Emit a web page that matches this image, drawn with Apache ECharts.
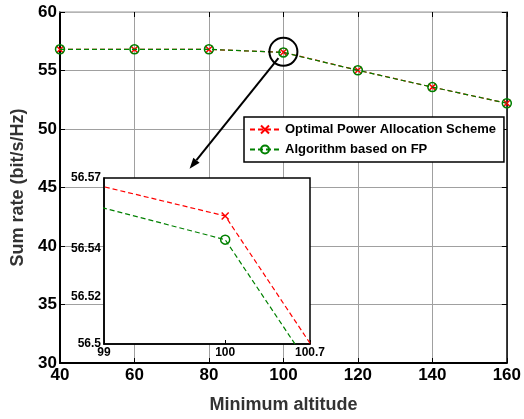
<!DOCTYPE html>
<html>
<head>
<meta charset="utf-8">
<script src="https://cdn.jsdelivr.net/npm/echarts@6/dist/echarts.min.js"></script>
<style>html,body{margin:0;padding:0;background:#fff}#c{width:524px;height:419px}</style>
</head>
<body>
<div id="c"></div>
<script>
// ---- data ----
const altitudes = [40, 60, 80, 100, 120, 140, 160];
const optimalRate = [56.80, 56.80, 56.80, 56.554, 55.02, 53.58, 52.20];
const fpRate = [56.81, 56.81, 56.81, 56.544, 55.016, 53.58, 52.20];
const seriesNames = ['Optimal Power Allocation Scheme', 'Algorithm based on FP'];
const insetYLabels = [56.5, 56.52, 56.54, 56.57];

const pairs = arr => altitudes.map((x, i) => [x, arr[i]]);
const FONT = 'Liberation Sans, Arial, sans-serif';
const xSym = 'path://M0,0L10,10M10,0L0,10';

const chart = echarts.init(document.getElementById('c'), null, {renderer: 'canvas'});

function mkSeries(idx, xi, yi, z) {
  const isRed = idx === 0;
  return {
    name: seriesNames[idx],
    type: 'line',
    xAxisIndex: xi, yAxisIndex: yi,
    data: pairs(isRed ? optimalRate : fpRate),
    z: z,
    clip: true,
    symbol: isRed ? xSym : 'circle',
    symbolSize: isRed ? 7 : 9,
    lineStyle: {color: isRed ? '#ff0000' : '#008000', width: 1.2, type: [5, 3]},
    itemStyle: {color: 'none', borderColor: isRed ? '#ff0000' : '#008000', borderWidth: 1.5},
    emphasis: {disabled: true},
    animation: false
  };
}

const option = {
  animation: false,
  grid: [
    {left: 60, right: 16, top: 12, bottom: 47, show: false},
    {left: 104, right: 214, top: 178, bottom: 75, show: true, backgroundColor: '#fff', borderColor: '#000', borderWidth: 1.5, z: 10}
  ],
  legend: {
    data: seriesNames,
    orient: 'vertical',
    left: 244, top: 117,
    padding: [6, 8, 6, 5],
    itemGap: 7,
    itemWidth: 30, itemHeight: 10,
    backgroundColor: '#fff',
    borderColor: '#000', borderWidth: 1.5, borderRadius: 0,
    textStyle: {fontFamily: FONT, fontWeight: 'bold', fontSize: 13, color: '#000'},
    z: 20
  },
  xAxis: [
    {type: 'value', gridIndex: 0, min: 40, max: 160, interval: 20, position: 'bottom',
      name: 'Minimum altitude', nameLocation: 'middle', nameGap: 33,
      nameTextStyle: {fontFamily: FONT, fontWeight: 'bold', fontSize: 18, color: '#333'},
      axisLine: {lineStyle: {color: '#000', width: 2}},
      axisTick: {inside: true, length: 5, lineStyle: {color: '#000'}},
      axisLabel: {fontFamily: FONT, fontWeight: 'bold', fontSize: 17, color: '#000', margin: 4},
      splitLine: {show: true, lineStyle: {color: '#a0a0a0', width: 1}}},
    {type: 'value', gridIndex: 0, min: 40, max: 160, interval: 20, position: 'top',
      axisLine: {lineStyle: {color: '#bbb', width: 1.5}},
      axisTick: {inside: true, length: 5, lineStyle: {color: '#000'}},
      axisLabel: {show: false}, splitLine: {show: false}},
    {type: 'value', gridIndex: 1, min: 99, max: 100.7, interval: 1, z: 11,
      axisLine: {lineStyle: {color: '#000', width: 1.5}},
      axisTick: {inside: true, length: 4, lineStyle: {color: '#000'}},
      axisLabel: {fontFamily: FONT, fontWeight: 'bold', fontSize: 12, color: '#000', margin: 3,
        showMinLabel: true, showMaxLabel: true,
        formatter: v => String(Math.round(v * 10) / 10)},
      splitLine: {show: false}}
  ],
  yAxis: [
    {type: 'value', gridIndex: 0, min: 30, max: 60, interval: 5, position: 'left',
      name: 'Sum rate (bit/s/Hz)', nameLocation: 'middle', nameGap: 30,
      nameTextStyle: {fontFamily: FONT, fontWeight: 'bold', fontSize: 18, color: '#333'},
      axisLine: {lineStyle: {color: '#000', width: 2}},
      axisTick: {inside: true, length: 5, lineStyle: {color: '#000'}},
      axisLabel: {fontFamily: FONT, fontWeight: 'bold', fontSize: 17, color: '#000', margin: 3},
      splitLine: {show: true, lineStyle: {color: '#a0a0a0', width: 1}}},
    {type: 'value', gridIndex: 0, min: 30, max: 60, interval: 5, position: 'right',
      axisLine: {lineStyle: {color: '#000', width: 1.5}},
      axisTick: {inside: true, length: 5, lineStyle: {color: '#000'}},
      axisLabel: {show: false}, splitLine: {show: false}},
    {type: 'value', gridIndex: 1, min: 56.5, max: 56.57, interval: 0.01, z: 11,
      axisLine: {lineStyle: {color: '#000', width: 1.5}},
      axisTick: {show: false},
      axisLabel: {fontFamily: FONT, fontWeight: 'bold', fontSize: 12, color: '#000', margin: 3,
        showMinLabel: true, showMaxLabel: true,
        formatter: v => {
          const hit = insetYLabels.find(t => Math.abs(t - v) < 1e-6);
          return hit === undefined ? '' : String(hit);
        }},
      splitLine: {show: false}}
  ],
  series: [
    mkSeries(0, 0, 0, 3),
    mkSeries(1, 0, 0, 4),
    Object.assign(mkSeries(0, 2, 2, 12), {name: seriesNames[0] + ' ', legendHoverLink: false}),
    Object.assign(mkSeries(1, 2, 2, 12), {name: seriesNames[1] + ' ', legendHoverLink: false})
  ]
};
chart.setOption(option);

// annotation: circle around the zoomed point and an arrow to the inset
const zoomPt = [altitudes[3], (optimalRate[3] + fpRate[3]) / 2 + 0.05];
const c = chart.convertToPixel({gridIndex: 0}, zoomPt);
const r = 14;
const tipData = [74.8, 46.6];
const tip = chart.convertToPixel({gridIndex: 0}, tipData);
const dx = tip[0] - c[0], dy = tip[1] - c[1];
const len = Math.sqrt(dx * dx + dy * dy);
const ux = dx / len, uy = dy / len;
const start = [c[0] + ux * (r - 6), c[1] + uy * (r - 6)];
const headL = 11, headW = 4;
const base = [tip[0] - ux * headL, tip[1] - uy * headL];
const px = -uy, py = ux;
chart.setOption({
  graphic: [
    {type: 'circle', shape: {cx: c[0], cy: c[1], r: r}, style: {fill: 'none', stroke: '#000', lineWidth: 2}, z: 30},
    {type: 'line', shape: {x1: start[0], y1: start[1], x2: base[0], y2: base[1]}, style: {stroke: '#000', lineWidth: 2}, z: 30},
    {type: 'polygon', shape: {points: [tip, [base[0] + px * headW, base[1] + py * headW], [base[0] - px * headW, base[1] - py * headW]]},
      style: {fill: '#000'}, z: 30}
  ]
});
</script>
</body>
</html>
